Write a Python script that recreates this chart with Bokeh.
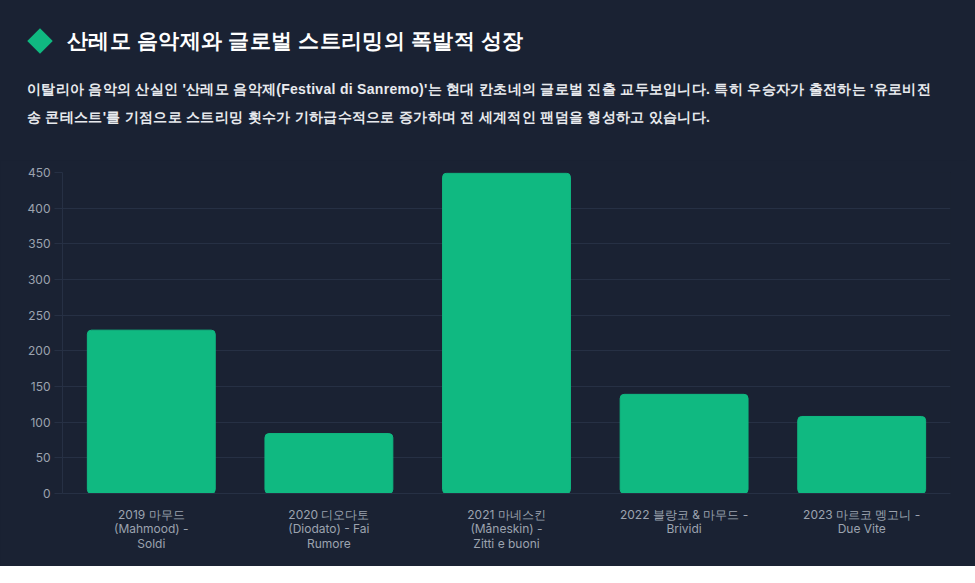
from bokeh.plotting import figure
from bokeh.models import Div, ColumnDataSource, FixedTicker, Range1d
from bokeh.layouts import column
from bokeh.embed import file_html
from bokeh.resources import INLINE

BG = "#1a2233"
GREEN = "#10b981"

categories = [
    "2019 마무드\n(Mahmood) -\nSoldi",
    "2020 디오다토\n(Diodato) - Fai\nRumore",
    "2021 마네스킨\n(Måneskin) -\nZitti e buoni",
    "2022 블랑코 & 마무드 -\nBrividi",
    "2023 마르코 멩고니 -\nDue Vite",
]
streams = [229, 84, 449, 139, 108]
y_ticks = [0, 50, 100, 150, 200, 250, 300, 350, 400, 450]

title_text = "산레모 음악제와 글로벌 스트리밍의 폭발적 성장"
subtitle_1 = "이탈리아 음악의 산실인 '산레모 음악제(Festival di Sanremo)'는 현대 칸초네의 글로벌 진출 교두보입니다. 특히 우승자가 출전하는 '유로비전"
subtitle_2 = "송 콘테스트'를 기점으로 스트리밍 횟수가 기하급수적으로 증가하며 전 세계적인 팬덤을 형성하고 있습니다."

FONT = "'Noto Sans CJK KR', 'Noto Sans', sans-serif"

header = Div(
    text=(
        f"<div style='font-family:{FONT};'>"
        f"<div style='display:flex;align-items:center;height:40px;margin-top:16px;'>"
        f"<span style='display:inline-block;width:18px;height:18px;background:{GREEN};"
        f"transform:rotate(45deg);margin-left:26px;margin-right:18px;'></span>"
        f"<span style='color:#ffffff;font-size:21px;font-weight:700;letter-spacing:0.3px;'>{title_text}</span></div>"
        f"<div style='color:#e8eaee;font-size:14px;font-weight:600;line-height:28px;"
        f"letter-spacing:0.3px;"
        f"margin-top:14px;margin-left:22px;white-space:nowrap;'>{subtitle_1}<br>{subtitle_2}</div>"
        f"</div>"
    ),
    width=967, height=150,
    styles={"background-color": BG},
)

source = ColumnDataSource(data=dict(cat=categories, val=streams))

p = figure(
    x_range=categories, y_range=Range1d(0, 450),
    width=967, height=406,
    output_backend="svg", toolbar_location=None,
    background_fill_color=BG, border_fill_color=BG,
    min_border_top=12, min_border_left=62, min_border_right=17, min_border_bottom=73,
    outline_line_color=None,
)
p.vbar(x="cat", top="val", width=0.72, source=source, fill_color=GREEN,
       line_color=GREEN, border_radius=4)

p.yaxis.ticker = FixedTicker(ticks=y_ticks)
p.yaxis.axis_line_color = "#263044"
p.yaxis.major_tick_line_color = "#263044"
p.yaxis.major_tick_out = 8
p.yaxis.major_tick_in = 0
p.yaxis.minor_tick_line_color = None
p.yaxis.major_label_text_color = "#9ca3af"
p.yaxis.major_label_text_font = "Inter"
p.yaxis.major_label_text_font_size = "12px"
p.yaxis.major_label_standoff = 4

p.xaxis.axis_line_color = "#263044"
p.xaxis.major_tick_line_color = None
p.xaxis.minor_tick_line_color = None
p.xaxis.major_label_text_color = "#9ca3af"
p.xaxis.major_label_text_font = "Inter"
p.xaxis.major_label_text_font_size = "12px"
p.xaxis.major_label_text_line_height = 0.97
p.xaxis.major_label_standoff = 7

p.xgrid.grid_line_color = None
p.ygrid.grid_line_color = "#263044"
p.ygrid.grid_line_width = 1

layout = column(header, p, spacing=0, styles={"background-color": BG})

html = file_html(layout, INLINE, title="Sanremo")
html = html.replace("<body>", f"<body style='background-color:{BG};margin:0;'>", 1)
open("out.html", "w").write(html)
